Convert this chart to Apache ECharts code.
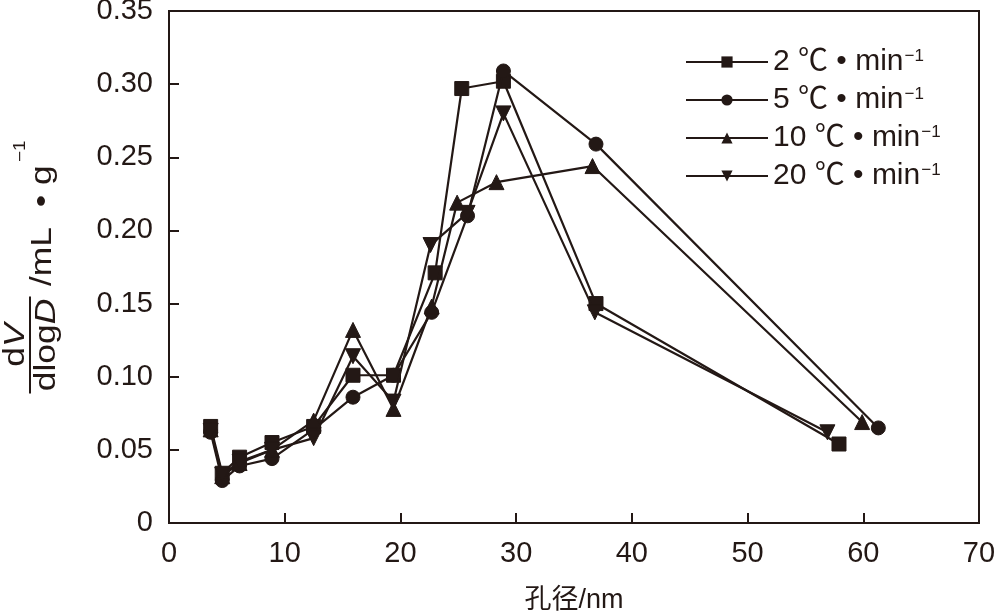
<!DOCTYPE html>
<html>
<head>
<meta charset="utf-8">
<script src="https://cdn.jsdelivr.net/npm/echarts@6/dist/echarts.min.js"></script>
<style>html,body{margin:0;padding:0;background:#fff;}#c{width:1000px;height:615px;}</style>
</head>
<body>
<div id="c"></div>
<script>
var seriesNames = ['2 ℃ • min', '5 ℃ • min', '10 ℃ • min', '20 ℃ • min'];
var rate2 = [[3.6,0.066],[4.6,0.034],[6.1,0.045],[8.9,0.055],[12.5,0.066],[15.9,0.101],[19.4,0.101],[23.0,0.171],[25.3,0.297],[28.9,0.302],[36.9,0.150],[57.9,0.054]];
var rate5 = [[3.6,0.062],[4.6,0.029],[6.1,0.039],[8.9,0.044],[12.5,0.064],[15.9,0.086],[19.4,0.101],[22.7,0.144],[25.8,0.210],[28.9,0.309],[36.9,0.259],[61.3,0.065]];
var rate10 = [[3.6,0.064],[4.6,0.032],[6.1,0.041],[8.9,0.050],[12.5,0.070],[15.9,0.132],[19.4,0.078],[22.7,0.148],[24.9,0.219],[28.3,0.233],[36.6,0.244],[59.9,0.069]];
var rate20 = [[3.6,0.063],[4.6,0.033],[6.1,0.042],[8.9,0.050],[12.5,0.058],[15.9,0.114],[19.4,0.083],[22.6,0.190],[25.8,0.212],[28.9,0.280],[36.8,0.144],[56.9,0.062]];
var xTicks = [0,10,20,30,40,50,60,70];
var yTicks = ['0','0.05','0.10','0.15','0.20','0.25','0.30','0.35'];

var INK = '#231815';
var tickFont = "'Liberation Sans',Arial,sans-serif";
var textFont = "'Liberation Sans',Arial,'Noto Sans CJK SC',sans-serif";

var symbols = ['rect','circle','triangle','triangle'];
var symRot = [0,0,0,180];
var sizes = [14,14,15,15];
var dataAll = [rate2, rate5, rate10, rate20];

var chart = echarts.init(document.getElementById('c'));
chart.setOption({
  animation: false,
  backgroundColor: '#fff',
  grid: {left: 169, right: 21, top: 11, bottom: 92, show: true, borderColor: INK, borderWidth: 2,
    backgroundColor: 'transparent', containLabel: false, outerBoundsMode: 'none'},
  legend: {
    left: 685, top: 47, orient: 'vertical', itemGap: 8, padding: 0,
    itemWidth: 82, itemHeight: 14,
    data: seriesNames,
    formatter: function (n) { return '{a|' + n + '}{s|−1}'; },
    textStyle: {
      color: INK,
      rich: {
        a: {fontSize: 30, fontFamily: textFont, color: INK, lineHeight: 29},
        s: {fontSize: 17, fontFamily: textFont, color: INK, verticalAlign: 'top', lineHeight: 16, padding: [0,0,0,1]}
      }
    }
  },
  xAxis: {
    type: 'value', min: 0, max: 70, interval: 10,
    name: '孔径/nm', nameLocation: 'middle', nameGap: 64,
    nameTextStyle: {fontSize: 27, color: INK, fontFamily: textFont},
    axisLine: {show: true, lineStyle: {color: INK, width: 2}},
    axisTick: {show: true, inside: true, length: 10, lineStyle: {color: INK, width: 2}},
    axisLabel: {fontSize: 29, color: INK, fontFamily: tickFont, margin: 16,
      formatter: function (v) { return xTicks.indexOf(v) >= 0 ? String(v) : ''; }},
    splitLine: {show: false}
  },
  yAxis: {
    type: 'value', min: 0, max: 0.35, interval: 0.05,
    axisLine: {show: true, lineStyle: {color: INK, width: 2}},
    axisTick: {show: true, inside: true, length: 10, lineStyle: {color: INK, width: 2}},
    axisLabel: {fontSize: 29, color: INK, fontFamily: tickFont, margin: 16,
      formatter: function (v) { return yTicks[Math.round(v / 0.05)]; }},
    splitLine: {show: false}
  },
  graphic: [{
    type: 'group', x: 30, y: 345, rotation: Math.PI / 2, scaleX: 1.18,
    children: [
      {type: 'text', x: 0, y: -14, style: {text: '{n|d}{i|V}', align: 'center', verticalAlign: 'middle', fill: INK,
        rich: {n: {fontSize: 30, fontFamily: textFont, fill: INK}, i: {fontSize: 30, fontFamily: textFont, fontStyle: 'italic', fill: INK}}}},
      {type: 'line', shape: {x1: -41, y1: 0, x2: 41, y2: 0}, style: {stroke: INK, lineWidth: 2}},
      {type: 'text', x: 0, y: 17, style: {text: '{n|dlog}{i|D}', align: 'center', verticalAlign: 'middle', fill: INK,
        rich: {n: {fontSize: 30, fontFamily: textFont, fill: INK}, i: {fontSize: 30, fontFamily: textFont, fontStyle: 'italic', fill: INK}}}},
      {type: 'text', x: 50, y: 13, style: {text: '/mL  • g', font: "30px 'Liberation Sans',Arial", fill: INK, align: 'left', verticalAlign: 'middle'}},
      {type: 'text', x: 155, y: -9, style: {text: '−1', font: "16px 'Liberation Sans',Arial", fill: INK, align: 'left', verticalAlign: 'middle'}}
    ]
  }],
  series: dataAll.map(function (d, i) {
    return {
      name: seriesNames[i], type: 'line', data: d,
      symbol: symbols[i], symbolSize: sizes[i], symbolRotate: symRot[i],
      lineStyle: {color: INK, width: 2.2},
      itemStyle: {color: INK, borderColor: INK},
      z: 2 + i
    };
  })
});
</script>
</body>
</html>
